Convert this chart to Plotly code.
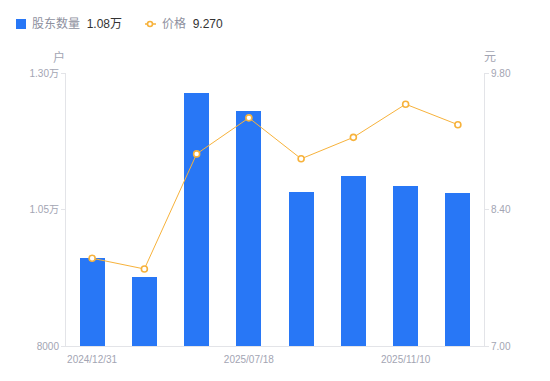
import plotly.graph_objects as go

dates = ["2024/12/31", "2025/03/31", "2025/06/30", "2025/07/18",
         "2025/08/31", "2025/09/30", "2025/11/10", "2025/11/30"]
holders = [9610, 9260, 12630, 12300, 10820, 11110, 10930, 10800]
prices = [7.90, 7.79, 8.97, 9.34, 8.92, 9.14, 9.48, 9.27]
shown_dates = ["2024/12/31", "2025/07/18", "2025/11/10"]
left_ticks = [8000, 10500, 13000]
left_text = ["8000", "1.05万", "1.30万"]
right_ticks = [7.0, 8.4, 9.8]
right_text = ["7.00", "8.40", "9.80"]

OFF = 8  # page body margin
W, H = 550 - OFF, 381 - OFF
L, T = 66 - OFF, 73 - OFF
PW, PH = 484 - 66, 346 - 73
R = W - L - PW
B = H - T - PH

def px(x):
    return (x - OFF - L) / PW

def py(y):
    return (T + PH - (y - OFF)) / PH

BLUE = "#2877F6"
ORANGE = "#F7B23B"
GRAY = "#A3A5B3"
AXIS = "#E3E4E8"
FONT = "Liberation Sans, Noto Sans CJK SC, sans-serif"

fig = go.Figure()
fig.add_trace(go.Bar(x=dates, y=holders, marker=dict(color=BLUE, line=dict(width=0)),
                     width=0.48, yaxis="y", showlegend=False))
fig.add_trace(go.Scatter(x=dates, y=prices, yaxis="y2", mode="lines+markers",
                         line=dict(color=ORANGE, width=1),
                         marker=dict(size=6, color="white", line=dict(color=ORANGE, width=1.6)),
                         showlegend=False))

fig.update_layout(
    width=W, height=H,
    margin=dict(l=L, r=R, t=T, b=B, pad=0),
    plot_bgcolor="white", paper_bgcolor="white",
    font=dict(family=FONT, size=10, color=GRAY),
    bargap=0,
    xaxis=dict(type="category", tickmode="array", tickvals=shown_dates, ticktext=shown_dates,
               showline=True, linecolor=AXIS, linewidth=1, showgrid=False,
               ticks="outside", ticklen=4, tickcolor="rgba(0,0,0,0)",
               tickfont=dict(size=10, color=GRAY), zeroline=False, fixedrange=True),
    yaxis=dict(range=[8000, 13000], tickmode="array", tickvals=left_ticks, ticktext=left_text,
               showline=True, linecolor=AXIS, linewidth=1, showgrid=False,
               ticks="outside", ticklen=4, tickcolor=AXIS, zeroline=False,
               tickfont=dict(size=10, color=GRAY)),
    yaxis2=dict(range=[7.0, 9.8], overlaying="y", side="right", tickmode="array",
                tickvals=right_ticks, ticktext=right_text,
                showline=True, linecolor=AXIS, linewidth=1, showgrid=False,
                ticks="outside", ticklen=4, tickcolor=AXIS, zeroline=False,
                tickfont=dict(size=10, color=GRAY)),
)

def fmt_wan(v):
    return f"{v/10000:.2f}万"

# axis unit titles
fig.add_annotation(x=px(59), y=py(57), xref="paper", yref="paper", text="户", showarrow=False,
                   font=dict(size=12, color=GRAY), xanchor="center", yanchor="middle")
fig.add_annotation(x=px(490), y=py(57), xref="paper", yref="paper", text="元", showarrow=False,
                   font=dict(size=12, color=GRAY), xanchor="center", yanchor="middle")

# legend
ly = py(24)
fig.add_shape(type="rect", xref="paper", yref="paper", x0=px(16), x1=px(26),
              y0=py(29), y1=py(19), fillcolor=BLUE, line=dict(width=0))
fig.add_annotation(x=px(30), y=ly, xref="paper", yref="paper", showarrow=False,
                   xanchor="left", yanchor="middle",
                   text=f"<span style='color:#8E909E'>股东数量</span>  <span style='color:#333333'>{fmt_wan(holders[-1])}</span>",
                   font=dict(size=12))
fig.add_shape(type="line", xref="paper", yref="paper", x0=px(145), x1=px(156), y0=ly, y1=ly,
              line=dict(color=ORANGE, width=1.5))
fig.add_shape(type="circle", xref="paper", yref="paper", x0=px(147.5), x1=px(152.5),
              y0=py(26.5), y1=py(21.5), fillcolor="white", line=dict(color=ORANGE, width=1.6))
fig.add_annotation(x=px(160), y=ly, xref="paper", yref="paper", showarrow=False,
                   xanchor="left", yanchor="middle",
                   text=f"<span style='color:#8E909E'>价格</span>  <span style='color:#333333'>{prices[-1]:.3f}</span>",
                   font=dict(size=12))

fig.write_html("out.html")
